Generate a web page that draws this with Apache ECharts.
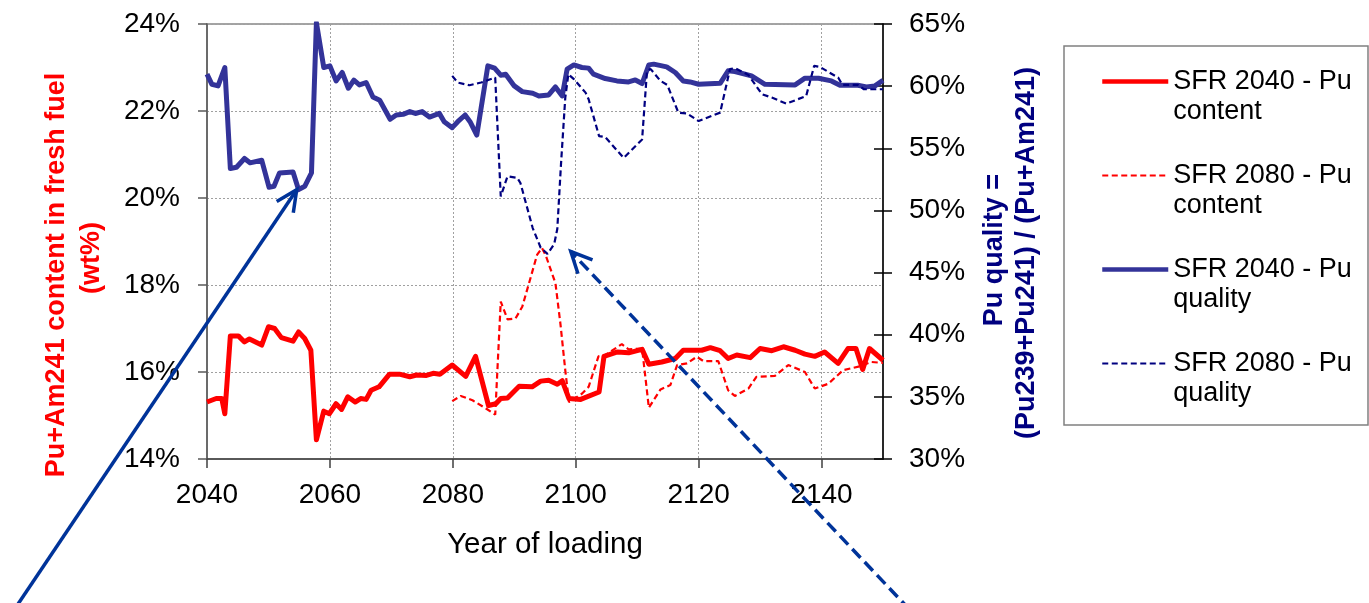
<!DOCTYPE html>
<html>
<head>
<meta charset="utf-8">
<script src="https://cdn.jsdelivr.net/npm/echarts@6/dist/echarts.min.js"></script>
<style>
  html, body { margin: 0; padding: 0; background: #fff; }
  #chart { width: 1369px; height: 603px; }
</style>
</head>
<body>
<div id="chart"></div>
<script>
// Pu+Am241 content in fresh fuel (wt%), [year of loading, %]
const contentSFR2040 = [
  [2040, 15.31], [2041.5, 15.39], [2042.4, 15.39], [2042.9, 15.04], [2043.8, 16.83], [2045.1, 16.83],
  [2046.1, 16.69], [2046.9, 16.76], [2048.9, 16.62], [2050.0, 17.04], [2051.0, 17.00], [2052.1, 16.79],
  [2054.0, 16.71], [2054.9, 16.92], [2055.9, 16.77], [2056.9, 16.50], [2057.8, 14.44], [2059.0, 15.10],
  [2059.9, 15.04], [2061.0, 15.27], [2061.9, 15.14], [2062.9, 15.43], [2064.1, 15.31], [2065.0, 15.39],
  [2065.9, 15.37], [2066.7, 15.58], [2068.0, 15.66], [2069.7, 15.95], [2071.3, 15.95], [2073.0, 15.89],
  [2074.1, 15.93], [2075.7, 15.92], [2076.8, 15.97], [2077.9, 15.95], [2079.9, 16.16], [2082.1, 15.90],
  [2083.7, 16.36], [2085.8, 15.23], [2087.0, 15.27], [2087.8, 15.39], [2088.9, 15.40], [2090.8, 15.67],
  [2092.9, 15.66], [2094.3, 15.79], [2095.6, 15.81], [2097.0, 15.72], [2097.8, 15.80], [2098.9, 15.39],
  [2100.8, 15.37], [2103.8, 15.54], [2104.6, 16.36], [2106.8, 16.46], [2108.6, 16.44], [2110.8, 16.52],
  [2111.9, 16.18], [2114.0, 16.23], [2116.2, 16.31], [2117.5, 16.50], [2120.5, 16.50], [2121.9, 16.56],
  [2123.5, 16.49], [2124.8, 16.31], [2126.2, 16.39], [2128.4, 16.33], [2130.0, 16.54], [2131.9, 16.49],
  [2133.8, 16.58], [2135.7, 16.50], [2137.3, 16.41], [2138.9, 16.36], [2140.5, 16.46], [2142.7, 16.20],
  [2144.3, 16.54], [2145.6, 16.54], [2146.7, 16.06], [2147.8, 16.54], [2150, 16.27]
];

const contentSFR2080 = [
  [2079.9, 15.33], [2081.3, 15.45], [2083.2, 15.35], [2085.4, 15.16], [2086.9, 15.02], [2087.8, 17.62],
  [2088.9, 17.21], [2090.2, 17.23], [2091.3, 17.50], [2092.4, 18.04], [2093.7, 18.69], [2094.5, 18.85],
  [2095.1, 18.69], [2096.7, 18.04], [2097.5, 17.12], [2098.3, 16.04], [2098.9, 15.31], [2101.0, 15.50],
  [2102.1, 15.66], [2103.7, 16.36], [2104.8, 16.39], [2107.5, 16.64], [2108.6, 16.52], [2110.8, 16.54],
  [2111.9, 15.18], [2113.8, 15.60], [2115.4, 15.70], [2116.5, 16.16], [2118.1, 16.20], [2119.7, 16.35],
  [2120.8, 16.25], [2123.2, 16.25], [2124.8, 15.58], [2125.9, 15.45], [2128.1, 15.62], [2129.4, 15.89],
  [2132.4, 15.91], [2134.6, 16.16], [2137.3, 16.00], [2138.9, 15.62], [2141.1, 15.73], [2143.5, 16.04],
  [2146.2, 16.13], [2148.1, 16.23], [2150, 16.21]
];

// Pu quality = (Pu239+Pu241)/(Pu+Am241), [year of loading, %]
const qualitySFR2040 = [
  [2040, 60.96], [2040.8, 60.15], [2041.8, 60.02], [2042.9, 61.50], [2043.8, 53.37], [2044.8, 53.47],
  [2046.1, 54.18], [2047.0, 53.83], [2048.9, 54.04], [2050.1, 51.86], [2050.9, 51.94], [2051.8, 53.02],
  [2054.0, 53.10], [2054.9, 51.67], [2055.9, 51.94], [2057.0, 53.02], [2057.8, 65.10], [2059.0, 61.50],
  [2060.0, 61.63], [2061.0, 60.42], [2062.0, 61.10], [2063.0, 59.83], [2063.9, 60.48], [2064.8, 60.10],
  [2065.9, 60.29], [2067.0, 59.13], [2068.1, 58.86], [2069.8, 57.33], [2070.8, 57.68], [2071.9, 57.73],
  [2073.0, 57.95], [2073.9, 57.80], [2075.0, 57.95], [2076.2, 57.51], [2077.8, 57.81], [2078.6, 57.14],
  [2079.9, 56.66], [2080.8, 57.14], [2082.0, 57.68], [2082.8, 57.14], [2083.9, 56.06], [2085.7, 61.63],
  [2086.8, 61.45], [2087.8, 60.88], [2088.6, 60.96], [2090.0, 60.02], [2091.3, 59.56], [2093.0, 59.43],
  [2094.0, 59.21], [2095.6, 59.29], [2096.7, 59.94], [2097.8, 59.21], [2098.6, 61.37], [2099.7, 61.71],
  [2101.0, 61.50], [2102.1, 61.45], [2102.9, 60.96], [2104.8, 60.61], [2106.7, 60.42], [2108.6, 60.34],
  [2109.7, 60.50], [2110.8, 60.21], [2111.9, 61.71], [2112.7, 61.77], [2114.8, 61.55], [2116.2, 61.10],
  [2117.5, 60.42], [2118.6, 60.34], [2120.0, 60.15], [2123.5, 60.23], [2124.8, 61.23], [2125.9, 61.18],
  [2128.6, 60.83], [2130.8, 60.15], [2135.7, 60.10], [2137.3, 60.64], [2139.5, 60.64], [2141.6, 60.42],
  [2143.0, 60.07], [2145.9, 60.07], [2147.3, 59.94], [2148.7, 60.02], [2150, 60.48]
];

const qualitySFR2080 = [
  [2079.9, 60.83], [2080.8, 60.29], [2082.7, 60.07], [2084.6, 60.29], [2086.9, 60.69], [2087.8, 51.13],
  [2088.9, 52.75], [2090.5, 52.62], [2091.0, 52.21], [2093.0, 48.58], [2094.3, 47.00], [2095.4, 46.50],
  [2096.5, 47.30], [2097.0, 48.50], [2097.6, 53.70], [2098.3, 59.08], [2098.8, 60.96], [2099.7, 60.56],
  [2101.6, 59.48], [2102.1, 58.94], [2103.8, 55.98], [2104.8, 55.90], [2107.8, 54.23], [2110.8, 55.71],
  [2111.6, 61.23], [2112.2, 61.37], [2113.8, 60.42], [2114.9, 60.10], [2116.7, 57.87], [2118.1, 57.80],
  [2120.0, 57.19], [2123.5, 57.87], [2125.1, 61.37], [2125.9, 61.45], [2128.1, 60.90], [2130.3, 59.35],
  [2131.9, 59.08], [2134.3, 58.59], [2137.5, 59.21], [2138.8, 61.63], [2139.7, 61.55], [2142.7, 60.69],
  [2143.4, 60.10], [2145.9, 60.10], [2146.9, 59.75], [2150, 59.75]
];

const seriesNames = [
  'SFR 2040 - Pu content',
  'SFR 2080 - Pu content',
  'SFR 2040 - Pu quality',
  'SFR 2080 - Pu quality'
];

// Points the two annotation arrows aim at, on the quality axis
const arrowTargets = {
  sfr2040: [2054.6, 51.67],
  sfr2080: [2099.2, 46.69]
};

const FONT = '"Liberation Sans", Arial, sans-serif';
const RED = '#FF0000';
const PURPLE = '#333399';
const NAVY = '#000080';
const ARROW = '#003399';

const chart = echarts.init(document.getElementById('chart'), null, { renderer: 'canvas' });

const splitStyle = { color: '#a0a0a0', width: 1, type: [2, 2] };

// Legend labels wrap after "Pu"; a spacer line on top lifts the key line
// level with the first line of text.
function legendLabel(name) {
  const cut = name.lastIndexOf(' ');
  return '{g|\u00a0}\n{t|' + name.slice(0, cut) + '}\n{t|' + name.slice(cut + 1) + '}';
}

chart.setOption({
  animation: false,
  backgroundColor: '#ffffff',
  textStyle: { fontFamily: FONT },
  grid: {
    left: 207, right: 486, top: 24, bottom: 144,
    show: true, borderColor: '#878787', borderWidth: 1.5
  },
  legend: {
    orient: 'vertical',
    left: 1100,
    top: 36.5,
    padding: 0,
    itemGap: 4,
    itemWidth: 66,
    itemHeight: 14,
    selectedMode: false,
    itemStyle: { opacity: 0 },
    formatter: legendLabel,
    textStyle: {
      fontFamily: FONT, fontSize: 27, color: '#000', lineHeight: 30,
      rich: {
        g: { fontFamily: FONT, fontSize: 27, lineHeight: 30, height: 30, verticalAlign: 'middle' },
        t: { fontFamily: FONT, fontSize: 27, lineHeight: 30, height: 30, verticalAlign: 'middle', color: '#000' }
      }
    },
    data: [
      { name: seriesNames[0], lineStyle: { width: 4.5 } },
      { name: seriesNames[1], lineStyle: { width: 2 } },
      { name: seriesNames[2], lineStyle: { width: 4.5 } },
      { name: seriesNames[3], lineStyle: { width: 2 } }
    ]
  },
  xAxis: {
    type: 'value',
    min: 2040, max: 2150, interval: 20,
    name: 'Year of loading',
    nameLocation: 'middle',
    nameGap: 71,
    nameTextStyle: { fontFamily: FONT, fontSize: 29.5, color: '#000' },
    axisLine: { lineStyle: { color: '#404040', width: 1.5 } },
    axisTick: { length: 9, lineStyle: { color: '#404040', width: 1.5 } },
    axisLabel: {
      fontFamily: FONT, fontSize: 28, color: '#000', margin: 22,
      showMaxLabel: false,
      formatter: v => String(v)
    },
    splitLine: { show: true, lineStyle: splitStyle }
  },
  yAxis: [
    {
      type: 'value', position: 'left',
      min: 14, max: 24, interval: 2,
      axisLine: { show: true, lineStyle: { color: '#595959', width: 1.5 } },
      axisTick: { show: true, length: 9, lineStyle: { color: '#595959', width: 1.5 } },
      axisLabel: {
        fontFamily: FONT, fontSize: 28, color: '#000', margin: 27,
        formatter: v => v + '%'
      },
      splitLine: { show: true, lineStyle: splitStyle }
    },
    {
      type: 'value', position: 'right',
      min: 30, max: 65, interval: 5,
      axisLine: { show: true, lineStyle: { color: '#000', width: 1.5 } },
      axisTick: { show: true, length: 9, lineStyle: { color: '#000', width: 1.5 } },
      axisLabel: {
        fontFamily: FONT, fontSize: 28, color: '#000', margin: 26,
        formatter: v => v + '%'
      },
      splitLine: { show: false }
    },
    {
      // inner half of the crossing ticks on the quality axis
      type: 'value', position: 'right',
      min: 30, max: 65, interval: 5,
      axisLine: { show: false },
      axisTick: { show: true, inside: true, length: 9, lineStyle: { color: '#000', width: 1.5 } },
      axisLabel: { show: false },
      splitLine: { show: false }
    }
  ],
  series: [
    {
      name: seriesNames[0], type: 'line', yAxisIndex: 0,
      data: contentSFR2040, symbol: 'none',
      lineStyle: { color: RED, width: 5, join: 'round' },
      itemStyle: { color: RED }, z: 2
    },
    {
      name: seriesNames[1], type: 'line', yAxisIndex: 0,
      data: contentSFR2080, symbol: 'none',
      lineStyle: { color: RED, width: 2.2, type: [6, 3.5] },
      itemStyle: { color: RED }, z: 3
    },
    {
      name: seriesNames[2], type: 'line', yAxisIndex: 1,
      data: qualitySFR2040, symbol: 'none',
      lineStyle: { color: PURPLE, width: 5, join: 'round' },
      itemStyle: { color: PURPLE }, z: 4
    },
    {
      name: seriesNames[3], type: 'line', yAxisIndex: 1,
      data: qualitySFR2080, symbol: 'none',
      lineStyle: { color: NAVY, width: 2.2, type: [6, 3.5] },
      itemStyle: { color: NAVY }, z: 5
    }
  ]
});

// Arrow from a fixed tail point to a data point, with an open chevron head
function arrowElements(id, tip, tail, dashed) {
  const dx = tip[0] - tail[0], dy = tip[1] - tail[1];
  const len = Math.hypot(dx, dy);
  const ux = dx / len, uy = dy / len;
  const nx = -uy, ny = ux;
  const L = 21, W = 10;
  const w1 = [tip[0] - L * ux + W * nx, tip[1] - L * uy + W * ny];
  const w2 = [tip[0] - L * ux - W * nx, tip[1] - L * uy - W * ny];
  return [
    {
      id: id + '-shaft', type: 'line', z: 100, silent: true,
      shape: { x1: tail[0], y1: tail[1], x2: tip[0], y2: tip[1] },
      style: { stroke: ARROW, lineWidth: 3.5, lineDash: dashed ? [12, 6] : null }
    },
    {
      id: id + '-head', type: 'polyline', z: 100, silent: true,
      shape: { points: [w1, tip, w2] },
      style: { stroke: ARROW, lineWidth: 3.5, fill: null }
    }
  ];
}

const tipA = chart.convertToPixel({ xAxisIndex: 0, yAxisIndex: 1 }, arrowTargets.sfr2040);
const tipB = chart.convertToPixel({ xAxisIndex: 0, yAxisIndex: 1 }, arrowTargets.sfr2080);

chart.setOption({
  graphic: [
    {
      id: 'legend-box', type: 'rect', z: 0, silent: true,
      shape: { x: 1064, y: 46, width: 304, height: 379 },
      style: { fill: null, stroke: '#808080', lineWidth: 1.5 }
    },
    {
      id: 'left-title-1', type: 'text', x: 57, y: 275, rotation: Math.PI / 2, silent: true,
      style: {
        text: 'Pu+Am241 content in fresh fuel', fill: RED,
        font: 'bold 27px ' + FONT, align: 'center', verticalAlign: 'middle'
      }
    },
    {
      id: 'left-title-2', type: 'text', x: 92, y: 258, rotation: Math.PI / 2, silent: true,
      style: {
        text: '(wt%)', fill: RED,
        font: 'bold 27px ' + FONT, align: 'center', verticalAlign: 'middle'
      }
    },
    {
      id: 'right-title-1', type: 'text', x: 995, y: 250, rotation: Math.PI / 2, silent: true,
      style: {
        text: 'Pu quality =', fill: NAVY,
        font: 'bold 27px ' + FONT, align: 'center', verticalAlign: 'middle'
      }
    },
    {
      id: 'right-title-2', type: 'text', x: 1027, y: 253, rotation: Math.PI / 2, silent: true,
      style: {
        text: '(Pu239+Pu241) / (Pu+Am241)', fill: NAVY,
        font: 'bold 27px ' + FONT, align: 'center', verticalAlign: 'middle'
      }
    }
  ].concat(
    arrowElements('arrow-2040', tipA, [14, 610], false),
    arrowElements('arrow-2080', tipB, [910, 610], true)
  )
});
</script>
</body>
</html>
